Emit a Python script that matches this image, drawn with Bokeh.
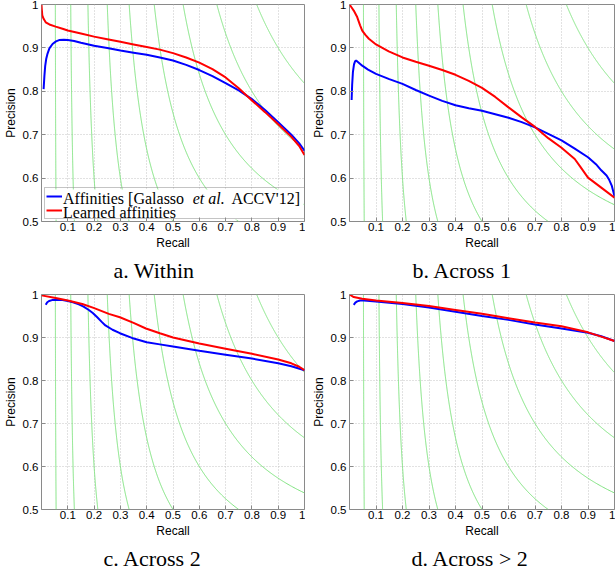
import numpy as np
from bokeh.plotting import figure
from bokeh.layouts import column, row
from bokeh.core.properties import value
from bokeh.models import (Range1d, FixedTicker, CustomJSTickFormatter, Legend,
                          LegendItem, Title)
from bokeh.embed import file_html
from bokeh.resources import INLINE

# iso-F contour levels drawn behind every precision/recall curve
f_levels = [0.1, 0.2, 0.3, 0.4, 0.5, 0.6, 0.7, 0.8, 0.9]

x_ticks = [0.1, 0.2, 0.3, 0.4, 0.5, 0.6, 0.7, 0.8, 0.9, 1.0]
y_ticks = [0.5, 0.6, 0.7, 0.8, 0.9, 1.0]

# legend text: the citation is split so that "et al." can be set in italics
base_name_parts = ["Affinities [Galasso", "et al.", "ACCV'12]"]
learn_name = "Learned affinities"
captions = ["a. Within", "b. Across 1", "c. Across 2", "d. Across > 2"]

# a. Within
a_base_recall = [0.008, 0.011, 0.014, 0.018, 0.023, 0.03, 0.042, 0.055, 0.067, 0.085, 0.1,
                 0.124, 0.15, 0.2, 0.25, 0.3, 0.35, 0.4, 0.45, 0.5, 0.55, 0.6, 0.65, 0.7,
                 0.75, 0.8, 0.85, 0.9, 0.95, 0.98, 1.0]
a_base_precision = [0.805, 0.835, 0.858, 0.875, 0.887, 0.899, 0.909, 0.915, 0.918, 0.919, 0.918,
                    0.916, 0.912, 0.905, 0.9, 0.894, 0.889, 0.884, 0.878, 0.871, 0.861, 0.849,
                    0.835, 0.819, 0.802, 0.782, 0.757, 0.729, 0.7, 0.68, 0.663]
a_learn_recall = [0.0, 0.001, 0.003, 0.008, 0.016, 0.03, 0.054, 0.08, 0.1, 0.15, 0.2, 0.25, 0.3,
                  0.35, 0.4, 0.45, 0.5, 0.55, 0.6, 0.65, 0.7, 0.75, 0.8, 0.85, 0.9, 0.95, 0.98, 1.0]
a_learn_precision = [1.0, 0.99, 0.975, 0.967, 0.959, 0.954, 0.949, 0.944, 0.94, 0.933, 0.926,
                     0.92, 0.914, 0.908, 0.902, 0.896, 0.888, 0.878, 0.866, 0.851, 0.832, 0.807,
                     0.779, 0.752, 0.724, 0.695, 0.674, 0.653]

# b. Across 1
b_base_recall = [0.008, 0.01, 0.013, 0.017, 0.021, 0.025, 0.035, 0.048, 0.07, 0.1, 0.15, 0.2,
                 0.25, 0.3, 0.35, 0.4, 0.45, 0.5, 0.55, 0.6, 0.65, 0.7, 0.75, 0.8, 0.85, 0.9,
                 0.93, 0.95, 0.97, 0.98, 0.99, 1.0]
b_base_precision = [0.78, 0.815, 0.845, 0.862, 0.869, 0.871, 0.866, 0.859, 0.85, 0.84, 0.828,
                    0.817, 0.803, 0.79, 0.778, 0.768, 0.761, 0.755, 0.747, 0.739, 0.729, 0.717,
                    0.702, 0.687, 0.668, 0.648, 0.632, 0.618, 0.606, 0.596, 0.582, 0.558]
b_learn_recall = [0.0, 0.008, 0.016, 0.029, 0.04, 0.048, 0.06, 0.073, 0.1, 0.148, 0.2, 0.25, 0.3,
                  0.35, 0.4, 0.45, 0.5, 0.55, 0.6, 0.65, 0.7, 0.75, 0.8, 0.85, 0.87, 0.9, 0.95, 1.0]
b_learn_precision = [1.0, 0.993, 0.986, 0.971, 0.952, 0.94, 0.93, 0.921, 0.908, 0.892, 0.878,
                     0.868, 0.859, 0.849, 0.838, 0.824, 0.808, 0.787, 0.763, 0.74, 0.718, 0.692,
                     0.67, 0.644, 0.627, 0.601, 0.578, 0.555]

# c. Across 2
c_base_recall = [0.016, 0.022, 0.029, 0.04, 0.054, 0.08, 0.1, 0.12, 0.142, 0.16, 0.18, 0.195,
                 0.212, 0.228, 0.243, 0.27, 0.298, 0.344, 0.4, 0.45, 0.5, 0.6, 0.7, 0.8, 0.9,
                 0.95, 1.0]
c_base_precision = [0.976, 0.982, 0.985, 0.987, 0.988, 0.987, 0.985, 0.982, 0.977, 0.972, 0.964,
                    0.957, 0.947, 0.937, 0.928, 0.918, 0.91, 0.899, 0.889, 0.884, 0.879, 0.869,
                    0.86, 0.851, 0.84, 0.833, 0.824]
c_learn_recall = [0.0, 0.054, 0.1, 0.155, 0.198, 0.256, 0.298, 0.35, 0.397, 0.45, 0.5, 0.55, 0.6,
                  0.7, 0.8, 0.9, 0.95, 0.98, 1.0]
c_learn_precision = [0.998, 0.992, 0.986, 0.978, 0.969, 0.955, 0.947, 0.934, 0.921, 0.91, 0.9,
                     0.893, 0.886, 0.874, 0.862, 0.849, 0.84, 0.832, 0.824]

# d. Across > 2
d_base_recall = [0.016, 0.022, 0.029, 0.04, 0.054, 0.1, 0.2, 0.3, 0.4, 0.5, 0.6, 0.7, 0.8, 0.9,
                 0.95, 1.0]
d_base_precision = [0.976, 0.981, 0.984, 0.986, 0.986, 0.984, 0.978, 0.97, 0.96, 0.95, 0.941,
                    0.93, 0.921, 0.911, 0.903, 0.892]
d_learn_recall = [0.0, 0.016, 0.048, 0.1, 0.2, 0.3, 0.4, 0.5, 0.6, 0.7, 0.8, 0.9, 0.95, 1.0]
d_learn_precision = [1.0, 0.994, 0.99, 0.986, 0.98, 0.973, 0.964, 0.955, 0.945, 0.935, 0.926,
                     0.912, 0.902, 0.892]

BLUE = "#0000ff"
RED = "#ff0000"
GREEN = "#7fe27f"
FRAME = "#8a8a8a"
SERIF = "Liberation Serif"
SANS = "Liberation Sans"


def iso_f_curve(f):
    """Points of constant F-measure inside the [0,1] x [0.5,1] window."""
    p_lo = max(0.5, f / (2.0 - f))
    prec = np.linspace(p_lo, 1.0, 300)
    rec = f * prec / (2.0 * prec - f)
    keep = rec <= 1.0
    return rec[keep], prec[keep]


def add_legend(p, rb, rr):
    # white backing for the legend, drawn over the contours (recall / precision units)
    p.quad(left=[0.0114], right=[0.9962], bottom=[0.5046], top=[0.5737],
           fill_color="white", fill_alpha=1.0, line_color=None)

    # legend entries as text glyphs
    row1, row2 = 0.553, 0.520
    pieces = [(0.082, row1, base_name_parts[0], "normal"),
              (0.575, row1, base_name_parts[1], "italic"),
              (0.722, row1, base_name_parts[2], "normal"),
              (0.082, row2, learn_name, "normal")]
    for x, y, txt, style in pieces:
        p.text(x=[x], y=[y], text=[txt], text_font=value(SERIF),
               text_font_size=value("16px"), text_font_style=style,
               text_color="black", text_baseline="middle", text_align="left")

    # frame and line swatches from a transparent Legend
    legend = Legend(items=[LegendItem(label=" ", renderers=[rb]),
                           LegendItem(label=" ", renderers=[rr])],
                    location=(3, 2), orientation="vertical",
                    label_text_font_size="6px", label_standoff=2,
                    glyph_width=16, glyph_height=14, label_height=14, label_width=240,
                    spacing=0, padding=1, margin=0,
                    border_line_color=FRAME, border_line_width=1,
                    background_fill_alpha=0.0)
    p.add_layout(legend)


def make_panel(base_r, base_p, learn_r, learn_p, caption, width, height,
               left, top, bottom, cap_offset, with_legend=False):
    p = figure(width=width, height=height, output_backend="svg", toolbar_location=None,
               x_range=Range1d(0, 1), y_range=Range1d(0.5, 1),
               min_border_left=left, min_border_right=1,
               min_border_top=top, min_border_bottom=bottom,
               background_fill_color="white", border_fill_color="white")
    p.outline_line_color = FRAME
    p.outline_line_width = 1

    for f in f_levels:
        r, pr = iso_f_curve(f)
        p.line(r, pr, line_color=GREEN, line_width=1)

    rb = p.line(base_r, base_p, line_color=BLUE, line_width=2)
    rr = p.line(learn_r, learn_p, line_color=RED, line_width=2)

    fmt = CustomJSTickFormatter(code="return tick > 0.999 ? '1' : tick.toFixed(1);")
    for ax, ticks, label in ((p.xaxis[0], x_ticks, "Recall"), (p.yaxis[0], y_ticks, "Precision")):
        ax.ticker = FixedTicker(ticks=ticks)
        ax.formatter = fmt
        ax.axis_label = label
        ax.axis_label_text_font = SANS
        ax.axis_label_text_font_size = "12px"
        ax.axis_label_text_font_style = "normal"
        ax.axis_label_text_color = "black"
        ax.major_label_text_font = SANS
        ax.major_label_text_font_size = "11.5px"
        ax.major_label_text_color = "black"
        ax.axis_line_color = None
        ax.major_tick_in = 4
        ax.major_tick_out = 0
        ax.major_tick_line_color = FRAME
        ax.minor_tick_line_color = None
    p.xaxis[0].major_label_standoff = 1
    p.xaxis[0].axis_label_standoff = 2
    p.yaxis[0].major_label_standoff = 3
    p.yaxis[0].axis_label_standoff = 2

    for g in (p.xgrid[0], p.ygrid[0]):
        g.grid_line_color = "#c4c4c4"
        g.grid_line_dash = "1 2"
        g.grid_line_width = 1

    if with_legend:
        add_legend(p, rb, rr)

    cap = Title(text=caption, align="left", offset=cap_offset,
                text_font=SERIF, text_font_size="22px",
                text_font_style="normal", text_color="black", standoff=6)
    p.add_layout(cap, "below")
    return p


pa = make_panel(a_base_recall, a_base_precision, a_learn_recall, a_learn_precision,
                captions[0], 305, 289, 40, 4, 68, 72, with_legend=True)
pb = make_panel(b_base_recall, b_base_precision, b_learn_recall, b_learn_precision,
                captions[1], 310, 289, 44, 4, 68, 63)
pc = make_panel(c_base_recall, c_base_precision, c_learn_recall, c_learn_precision,
                captions[2], 305, 284, 40, 5, 63, 62)
pd = make_panel(d_base_recall, d_base_precision, d_learn_recall, d_learn_precision,
                captions[3], 310, 284, 44, 5, 63, 62)

layout = column(row(pa, pb), row(pc, pd))

with open("out.html", "w") as fh:
    fh.write(file_html(layout, INLINE))
